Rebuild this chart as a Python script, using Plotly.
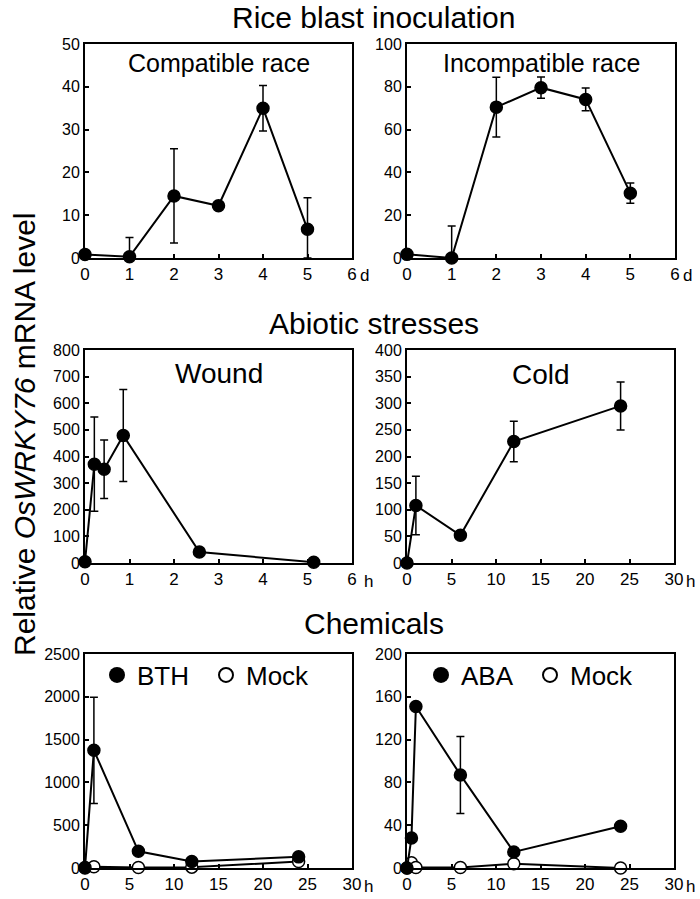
import plotly.graph_objects as go

FONT = "Arial, 'Liberation Sans', Helvetica, sans-serif"

# ---------------- data ----------------
days = [0, 1, 2, 3, 4, 5]
compat = [0.8, 0.3, 14.5, 12.2, 35.0, 6.7]
compat_err = [None, 4.5, 11.0, None, 5.3, 7.4]
incompat = [1.7, 0.0, 70.5, 79.6, 74.1, 30.3]
incompat_err = [None, 14.9, 14.0, 5.0, 5.3, 4.7]

wound_t = [0, 0.21, 0.43, 0.86, 2.57, 5.14]
wound = [5, 371, 352, 479, 41, 3]
wound_err = [None, 177, 110, 173, None, None]

cold_t = [0, 1, 6, 12, 24]
cold = [0, 108, 52, 228, 295]
cold_err = [None, 55, None, 38, 45]

bth_t = [0, 1, 6, 12, 24]
bth = [5, 1375, 195, 77, 130]
bth_err = [None, 621, None, None, None]
bth_mock = [0, 15, 5, 10, 75]

aba_t = [0, 0.5, 1, 6, 12, 24]
aba = [0, 28, 151, 87, 15, 39]
aba_err = [None, None, None, 36, None, None]
aba_mock = [0, 5, 0.5, 0.5, 4, 0]

section_titles = ["Rice blast inoculation", "Abiotic stresses", "Chemicals"]
panel_titles = ["Compatible race", "Incompatible race", "Wound", "Cold"]
y_label = "Relative <i>OsWRKY76</i> mRNA level"

# ---------------- layout geometry ----------------
W, H = 700, 899
panels = [  # (left, right, top, bottom) in px
    (85, 352, 44, 258),
    (407, 675, 44, 258),
    (85, 352, 350, 563),
    (407, 674, 350, 563),
    (85, 352, 654, 868),
    (407, 674, 654, 868),
]
x_ranges = [[0, 6], [0, 6], [0, 6], [0, 30], [0, 30], [0, 30]]
x_ticks = [list(range(0, 7)), list(range(0, 7)), list(range(0, 7)),
           list(range(0, 31, 5)), list(range(0, 31, 5)), list(range(0, 31, 5))]
y_ranges = [[0, 50], [0, 100], [0, 800], [0, 400], [0, 2500], [0, 200]]
y_ticks = [list(range(0, 51, 10)), list(range(0, 101, 20)), list(range(0, 801, 100)),
           list(range(0, 401, 50)), list(range(0, 2501, 500)), list(range(0, 201, 40))]
units = ["d", "d", "h", "h", "h", "h"]


def err_minus(vals, errs):
    return [None if e is None else min(e, v) for v, e in zip(vals, errs)]


fig = go.Figure()

MS = 12


def add_series(i, x, y, err=None, filled=True):
    ax = "" if i == 0 else str(i + 1)
    kw = {}
    if err is not None:
        kw["error_y"] = dict(type="data", symmetric=False, array=err,
                             arrayminus=err_minus(y, err), color="black",
                             thickness=1.5, width=4)
    fig.add_trace(go.Scatter(
        x=x, y=y, mode="lines+markers", xaxis="x" + ax, yaxis="y" + ax,
        line=dict(color="black", width=2),
        marker=dict(size=MS, color="black" if filled else "white",
                    line=dict(color="black", width=1.5)),
        cliponaxis=False, showlegend=False, hoverinfo="skip", **kw))


add_series(0, days, compat, compat_err)
add_series(1, days, incompat, incompat_err)
add_series(2, wound_t, wound, wound_err)
add_series(3, cold_t, cold, cold_err)
add_series(4, bth_t, bth_mock, filled=False)
add_series(4, bth_t, bth, bth_err)
add_series(5, aba_t, aba_mock, filled=False)
add_series(5, aba_t, aba, aba_err)

# legend-only entries
for lg, name in [("legend", "BTH"), ("legend2", "ABA")]:
    fig.add_trace(go.Scatter(x=[None], y=[None], mode="markers", name=name,
                             marker=dict(size=16, color="black"), legend=lg))
    fig.add_trace(go.Scatter(x=[None], y=[None], mode="markers", name="Mock",
                             marker=dict(size=14, color="white",
                                         line=dict(color="black", width=2)),
                             legend=lg))

layout = dict(width=W, height=H, paper_bgcolor="white", plot_bgcolor="white",
              margin=dict(l=0, r=0, t=0, b=0, pad=0, autoexpand=False),
              font=dict(family=FONT, color="black"))

for i, (l, r, t, b) in enumerate(panels):
    n = "" if i == 0 else str(i + 1)
    common = dict(showline=True, linecolor="black", linewidth=2, mirror=True,
                  ticks="inside", ticklen=4, tickwidth=1.5, tickcolor="black",
                  showgrid=False, zeroline=False, automargin=False)
    layout["xaxis" + n] = dict(domain=[l / W, r / W], range=x_ranges[i],
                               tickvals=x_ticks[i], anchor="y" + n,
                               tickfont=dict(size=17, family=FONT), **common)
    layout["yaxis" + n] = dict(domain=[1 - b / H, 1 - t / H], range=y_ranges[i],
                               tickvals=y_ticks[i], anchor="x" + n,
                               tickfont=dict(size=16, family=FONT), **common)

ann = []
# section titles
for txt, py in zip(section_titles, [18, 323, 623]):
    ann.append(dict(text=txt, x=374 / W, y=1 - py / H, xref="paper", yref="paper",
                    xanchor="center", yanchor="middle", showarrow=False,
                    font=dict(size=30, family=FONT)))
# panel titles
for i, (txt, dyp, fs) in enumerate(zip(panel_titles, [19, 19, 23, 24], [25, 25, 28, 28])):
    n = "" if i == 0 else str(i + 1)
    ann.append(dict(text=txt, x=0.5, y=1, xref="x" + n + " domain", yref="y" + n + " domain",
                    xanchor="center", yanchor="middle", yshift=-dyp, showarrow=False,
                    font=dict(size=fs, family=FONT)))
# unit labels after the last x tick
for i, u in enumerate(units):
    n = "" if i == 0 else str(i + 1)
    ann.append(dict(text=u, x=1, y=0, xref="x" + n + " domain", yref="y" + n + " domain",
                    xanchor="left", yanchor="middle", xshift=6 if u == "d" else 10,
                    yshift=-18, showarrow=False, font=dict(size=17, family=FONT)))
# y axis label
ann.append(dict(text=y_label, x=24 / W, y=1 - 435 / H, xref="paper", yref="paper",
                textangle=-90, xanchor="center", yanchor="middle", showarrow=False,
                font=dict(size=30, family=FONT)))
layout["annotations"] = ann

leg_common = dict(orientation="h", xanchor="left", yanchor="middle",
                  font=dict(size=26, family=FONT, color="black"),
                  bgcolor="rgba(0,0,0,0)", itemwidth=30, entrywidth=64)
layout["legend"] = dict(x=97 / W, y=1 - 675 / H, **leg_common)
layout["legend2"] = dict(x=421 / W, y=1 - 675 / H, **leg_common)

fig.update_layout(**layout)
fig.write_html("out.html", config={"displayModeBar": False},
               post_script="document.body.style.margin='0';")
